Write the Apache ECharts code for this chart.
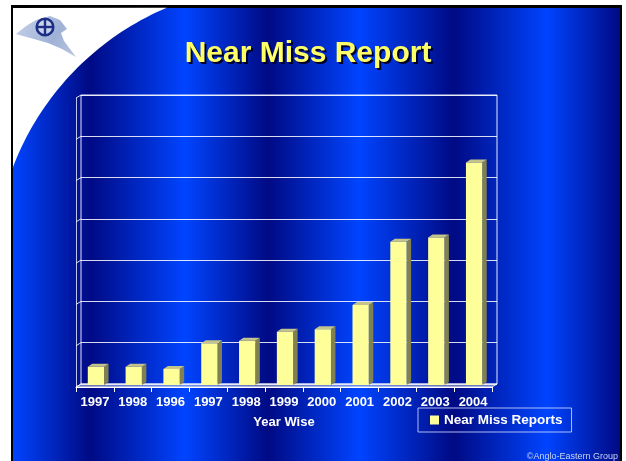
<!DOCTYPE html>
<html>
<head>
<meta charset="utf-8">
<script src="https://cdn.jsdelivr.net/npm/echarts@6/dist/echarts.min.js"></script>
<style>
  html, body { margin: 0; padding: 0; background: #ffffff; }
  #chart { width: 626px; height: 461px; }
</style>
</head>
<body>
<div id="chart"></div>
<script>
// Near miss reports per year
const categories = ['1997', '1998', '1996', '1997', '1998', '1999', '2000', '2001', '2002', '2003', '2004'];
const reports = [44, 44, 39, 101, 107, 129, 135, 194, 347, 357, 539];
const yTicks = [0, 100, 200, 300, 400, 500, 600, 700];

const FONT = '"Liberation Sans", Arial, Helvetica, sans-serif';
const W = 626, H = 461;

// Front plane (category axis) and back wall (gridlines) of the 3D frame
const FRONT = { left: 76, top: 98, width: 416, height: 289 };
const BACK = { left: 81, top: 95, width: 416, height: 289 };
const Y_MAX = yTicks[yTicks.length - 1];

// 3D column faces
const BAR_FRONT = '#ffff99';
const BAR_SIDE = '#808050';
const BAR_TOP = '#c4c48a';
const DEPTH_X = 4.5, DEPTH_Y = 3;
const MID_X = 1, MID_Y = -2;

function renderBar(params, api) {
  const idx = api.value(0);
  const v = api.value(1);
  const top = api.coord([idx, v]);
  const base = api.coord([idx, 0]);
  const band = api.size([1, 0])[0];
  const w = band * 0.43;
  const x0 = top[0] - w / 2 + MID_X;
  const x1 = x0 + w;
  const yT = top[1] + MID_Y;
  const yB = base[1] + MID_Y;
  return {
    type: 'group',
    children: [
      { type: 'polygon', shape: { points: [[x1, yT], [x1 + DEPTH_X, yT - DEPTH_Y], [x1 + DEPTH_X, yB - DEPTH_Y], [x1, yB]] }, style: { fill: BAR_SIDE } },
      { type: 'polygon', shape: { points: [[x0, yT], [x0 + DEPTH_X, yT - DEPTH_Y], [x1 + DEPTH_X, yT - DEPTH_Y], [x1, yT]] }, style: { fill: BAR_TOP } },
      { type: 'rect', shape: { x: x0, y: yT, width: w, height: yB - yT }, style: { fill: BAR_FRONT } }
    ]
  };
}

// Striped blue slide background
function stripeGradient() {
  const x0 = 13, x1 = 620, span = x1 - x0;
  const bright = '#0044ff', dark = '#000a84';
  const marks = [[13, bright], [90, dark], [185, bright], [268, dark], [359, bright], [454, dark], [547, bright], [620, dark]];
  return new echarts.graphic.LinearGradient(0, 0, 1, 0,
    marks.map(m => ({ offset: (m[0] - x0) / span, color: m[1] })));
}

// White corner outside the large arc at the top left of the slide
function cornerPoints() {
  const cx = 276.5, cy = 267.5, r = 282;
  const a0 = Math.atan2(8 - cy, 167 - cx);
  const a1 = Math.atan2(168 - cy, 13 - cx);
  const pts = [[13, 8]];
  const n = 40;
  for (let i = 0; i <= n; i++) {
    const a = a0 + (a1 - a0) * i / n;
    pts.push([cx + r * Math.cos(a), cy + r * Math.sin(a)]);
  }
  pts.push([13, 168]);
  return pts;
}

const frontBottom = FRONT.top + FRONT.height;
const backBottom = BACK.top + BACK.height;
const wallLines = yTicks.map(t => {
  const f = FRONT.top + (Y_MAX - t) / Y_MAX * FRONT.height;
  const b = BACK.top + (Y_MAX - t) / Y_MAX * BACK.height;
  return {
    type: 'line', z: 1,
    shape: { x1: FRONT.left, y1: f, x2: BACK.left, y2: b },
    style: { stroke: 'rgba(255,255,255,0.85)', lineWidth: 1 }
  };
});

const TITLE = 'Near Miss Report';
const titleFont = 'bold 30px ' + FONT;

const graphics = [
  { type: 'rect', z: -30, shape: { x: 11, y: 5, width: 611, height: H }, style: { fill: '#000000' } },
  { type: 'rect', z: -29, shape: { x: 13, y: 8, width: 607, height: H }, style: { fill: stripeGradient() } },
  { type: 'polygon', z: -28, shape: { points: cornerPoints() }, style: { fill: '#ffffff' } },
  // company emblem
  { type: 'polygon', z: -27,
    shape: { points: [[16, 34], [26, 26], [36, 20], [50, 16], [60, 20], [67, 29], [61, 33], [64, 41], [76, 57], [62, 49], [48, 43], [34, 39], [23, 36]] },
    style: { fill: new echarts.graphic.LinearGradient(0, 0, 1, 1, [{ offset: 0, color: '#c6d2ea' }, { offset: 0.6, color: '#9fb2d6' }, { offset: 1, color: '#b8c6e0' }]) } },
  { type: 'circle', z: -26, shape: { cx: 45, cy: 27, r: 8.3 }, style: { fill: 'rgba(255,255,255,0.35)', stroke: '#1c2e86', lineWidth: 2.6 } },
  { type: 'line', z: -26, shape: { x1: 37, y1: 27, x2: 53, y2: 27 }, style: { stroke: '#1c2e86', lineWidth: 2.4 } },
  { type: 'line', z: -26, shape: { x1: 45, y1: 19, x2: 45, y2: 35 }, style: { stroke: '#1c2e86', lineWidth: 2.4 } },
  // slide title with its drop shadow
  { type: 'text', z: 10, style: { x: 310, y: 56, text: TITLE, align: 'center', verticalAlign: 'middle', fill: '#000028', font: titleFont } },
  { type: 'text', z: 11, style: { x: 308, y: 54, text: TITLE, align: 'center', verticalAlign: 'middle', fill: '#ffff66', font: titleFont } },
  // floor of the 3D frame
  { type: 'polygon', z: 1,
    shape: { points: [[FRONT.left, frontBottom], [BACK.left, backBottom], [BACK.left + BACK.width, backBottom], [FRONT.left + FRONT.width, frontBottom]] },
    style: { fill: 'rgba(200,205,225,0.55)', stroke: 'rgba(255,255,255,0.8)', lineWidth: 1 } },
  ...wallLines,
  { type: 'text', z: 10, style: { x: 618, y: 457, text: '\u00a9Anglo-Eastern Group', align: 'right', verticalAlign: 'middle', fill: '#c8d2f0', font: '9px ' + FONT } }
];

const chart = echarts.init(document.getElementById('chart'), null, { renderer: 'canvas', width: W, height: H });

chart.setOption({
  backgroundColor: 'transparent',
  animation: false,
  legend: {
    data: ['Near Miss Reports'],
    left: 418, top: 408,
    padding: [5, 9, 5, 12],
    itemWidth: 9, itemHeight: 9, icon: 'rect',
    borderColor: 'rgba(205,215,255,0.85)', borderWidth: 1,
    textStyle: { color: '#ffffff', fontSize: 13.5, fontWeight: 'bold', fontFamily: FONT }
  },
  graphic: graphics,
  grid: [
    { left: FRONT.left, top: FRONT.top, width: FRONT.width, height: FRONT.height, containLabel: false },
    { left: BACK.left, top: BACK.top, width: BACK.width, height: BACK.height, containLabel: false,
      show: true, borderColor: 'rgba(255,255,255,0.9)', borderWidth: 1, backgroundColor: 'transparent' }
  ],
  xAxis: [
    {
      type: 'category', gridIndex: 0, data: categories,
      name: 'Year Wise', nameLocation: 'middle', nameGap: 29,
      nameTextStyle: { color: '#ffffff', fontSize: 13, fontWeight: 'bold', fontFamily: FONT },
      axisLine: { lineStyle: { color: '#ffffff', width: 1 } },
      axisTick: { show: true, length: 5, lineStyle: { color: '#ffffff' } },
      axisLabel: { color: '#ffffff', fontSize: 13, fontWeight: 'bold', fontFamily: FONT, margin: 9, interval: 0 },
      splitLine: { show: false }
    },
    {
      type: 'category', gridIndex: 1, data: categories,
      axisLine: { show: false }, axisTick: { show: false }, axisLabel: { show: false }, splitLine: { show: false }
    }
  ],
  yAxis: [
    {
      type: 'value', gridIndex: 0, min: 0, max: Y_MAX, interval: 100,
      axisLine: { show: true, lineStyle: { color: 'rgba(255,255,255,0.75)' } },
      axisTick: { show: false }, axisLabel: { show: false }, splitLine: { show: false }
    },
    {
      type: 'value', gridIndex: 1, min: 0, max: Y_MAX, interval: 100,
      axisLine: { show: false }, axisTick: { show: false }, axisLabel: { show: false },
      splitLine: { show: true, lineStyle: { color: 'rgba(255,255,255,0.85)', width: 1 } }
    }
  ],
  series: [
    {
      name: 'Near Miss Reports',
      type: 'custom',
      xAxisIndex: 0, yAxisIndex: 0,
      itemStyle: { color: BAR_FRONT },
      renderItem: renderBar,
      encode: { x: 0, y: 1 },
      data: reports.map((v, i) => [i, v]),
      z: 5
    }
  ]
});
</script>
</body>
</html>
